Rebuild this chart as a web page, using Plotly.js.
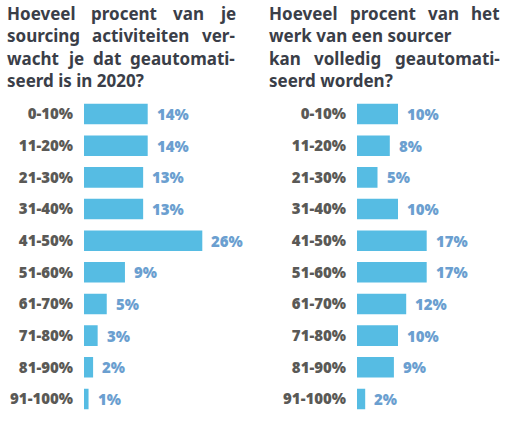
<!DOCTYPE html>
<html>
<head>
<meta charset="utf-8">
<script src="https://cdn.plot.ly/plotly-3.0.1.min.js"></script>
<style>
  html, body { margin: 0; padding: 0; background: #fff; }
  #chart { width: 507px; height: 424px; }
</style>
</head>
<body>
<div id="chart"></div>
<script>
// Two horizontal bar panels, same buckets, each with a justified question on top.

const buckets = ['0-10%', '11-20%', '21-30%', '31-40%', '41-50%',
                 '51-60%', '61-70%', '71-80%', '81-90%', '91-100%'];
const leftValues = [14, 14, 13, 13, 26, 9, 5, 3, 2, 1];
const rightValues = [10, 8, 5, 10, 17, 17, 12, 10, 9, 2];

// title lines; true = justified over the full column width
const leftTitle = [
  ['Hoeveel procent van je', true],
  ['sourcing activiteiten ver-', true],
  ['wacht je dat geautomati-', true],
  ['seerd is in 2020?', false]
];
const rightTitle = [
  ['Hoeveel procent van het', true],
  ['werk van een sourcer', false],
  ['kan volledig geautomati-', true],
  ['seerd worden?', false]
];

const W = 507, H = 424;
const BAR = '#56bce3';
const VALUE = '#6b9fd0';
const LABEL = '#5a5956';
const TITLE = '#3a3e48';
const TITLE_FONT = 'Noto Sans';
const TITLE_SIZE = 17;
const LABEL_FONT = { family: 'Open Sans', size: 15, color: LABEL, weight: 800 };

const px = v => v / W;
const py = v => 1 - v / H;

// measure words so justified lines can be spread out like the print layout
const ctx = document.createElement('canvas').getContext('2d');
ctx.font = `bold ${TITLE_SIZE}px "${TITLE_FONT}"`;

function titleAnnotations(lines, x0, x1, yTop, lineH) {
  const out = [];
  lines.forEach(function ([text, justify], i) {
    const y = py(yTop + i * lineH);
    const base = {
      xref: 'paper', yref: 'paper', y: y, yanchor: 'middle', xanchor: 'left',
      showarrow: false, borderpad: 0,
      font: { family: TITLE_FONT, size: TITLE_SIZE, color: TITLE, weight: 700 }
    };
    if (!justify) {
      out.push(Object.assign({}, base, { x: px(x0), text: text }));
      return;
    }
    const words = text.split(' ');
    const widths = words.map(w => ctx.measureText(w).width);
    const total = widths.reduce((a, b) => a + b, 0);
    const gap = (x1 - x0 - total) / (words.length - 1);
    let x = x0;
    words.forEach(function (w, j) {
      out.push(Object.assign({}, base, { x: px(x), text: w }));
      x += widths[j] + gap;
    });
  });
  return out;
}

function valueAnnotations(values, xref, yref) {
  return values.map((v, i) => ({
    xref: xref, yref: yref, x: v, y: buckets[i],
    xanchor: 'left', yanchor: 'middle', xshift: 7, showarrow: false,
    text: v + '%', font: { family: 'Open Sans', size: 15, color: VALUE, weight: 800 }
  }));
}

const traces = [
  {
    type: 'bar', orientation: 'h', x: leftValues, y: buckets,
    xaxis: 'x', yaxis: 'y', marker: { color: BAR }, hoverinfo: 'skip'
  },
  {
    type: 'bar', orientation: 'h', x: rightValues, y: buckets,
    xaxis: 'x2', yaxis: 'y2', marker: { color: BAR }, hoverinfo: 'skip'
  }
];

const yDomain = [py(414.8), py(98.2)];
const yCommon = {
  type: 'category', autorange: 'reversed', domain: yDomain,
  showgrid: false, zeroline: false, showline: false,
  ticks: '', ticklabelstandoff: 10, tickfont: LABEL_FONT
};
const xCommon = {
  showgrid: false, zeroline: false, showline: false,
  showticklabels: false, ticks: '', fixedrange: true
};

const layout = {
  width: W, height: H,
  margin: { l: 0, r: 0, t: 0, b: 0 },
  paper_bgcolor: '#fff', plot_bgcolor: '#fff',
  showlegend: false, bargap: 0.35,
  xaxis: Object.assign({}, xCommon, { domain: [px(84), px(84 + 30 * 4.55)], range: [0, 30], anchor: 'y' }),
  yaxis: Object.assign({}, yCommon, { anchor: 'x' }),
  xaxis2: Object.assign({}, xCommon, { domain: [px(357), px(357 + 30 * 4.1)], range: [0, 30], anchor: 'y2' }),
  yaxis2: Object.assign({}, yCommon, { anchor: 'x2' }),
  annotations: [].concat(
    titleAnnotations(leftTitle, 6, 234, 13, 22.5),
    titleAnnotations(rightTitle, 268, 499, 13, 22.5),
    valueAnnotations(leftValues, 'x', 'y'),
    valueAnnotations(rightValues, 'x2', 'y2')
  )
};

Plotly.newPlot('chart', traces, layout, { displayModeBar: false, staticPlot: true });
</script>
</body>
</html>
